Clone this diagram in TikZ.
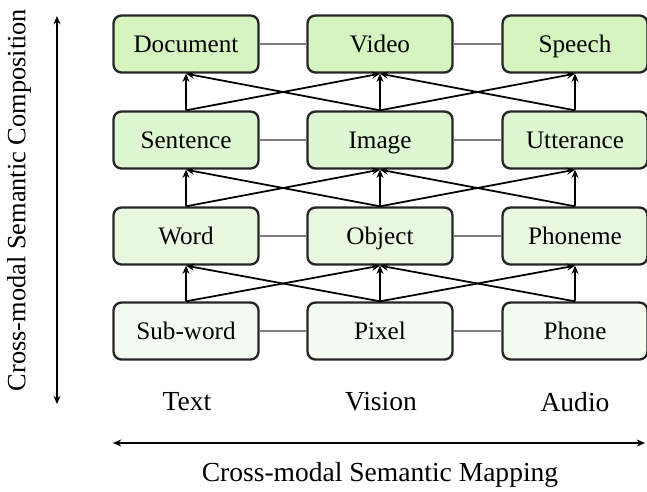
\documentclass[tikz,border=0pt]{standalone}
\usepackage{fontspec}
\usetikzlibrary{arrows.meta}
\setmainfont{Liberation Serif}
\definecolor{lvA}{RGB}{244,251,240}
\definecolor{lvB}{RGB}{233,248,225}
\definecolor{lvC}{RGB}{222,246,209}
\definecolor{lvD}{RGB}{213,244,192}
\begin{document}
\begin{tikzpicture}[x=0.03cm, y=-0.03cm, >={Stealth[length=7pt, width=6pt]},
    box/.style={draw=black!85, line width=2pt, rounded corners=0.24cm,
        minimum width=4.35cm, minimum height=1.71cm, text height=14pt, text depth=0pt,
        font=\fontsize{21.5}{25}\selectfont},
    up/.style={->, line width=1.5pt},
    link/.style={gray, line width=2pt},
    lab/.style={font=\fontsize{23.5}{28}\selectfont}]
    \useasboundingbox (0,0) rectangle (647,491);

    % 1. 各层方框
    \node[box, fill=lvD] (doc) at (186,44) {Document};
    \node[box, fill=lvD] (vid) at (380,44) {Video};
    \node[box, fill=lvD] (spe) at (575,44) {Speech};
    \node[box, fill=lvC] (sen) at (186,140) {Sentence};
    \node[box, fill=lvC] (img) at (380,140) {Image};
    \node[box, fill=lvC] (utt) at (575,140) {Utterance};
    \node[box, fill=lvB] (wrd) at (186,236) {Word};
    \node[box, fill=lvB] (obj) at (380,236) {Object};
    \node[box, fill=lvB] (phm) at (575,236) {Phoneme};
    \node[box, fill=lvA] (sub) at (186,331) {Sub-word};
    \node[box, fill=lvA] (pix) at (380,331) {Pixel};
    \node[box, fill=lvA] (pho) at (575,331) {Phone};

    % 2. 横向连线
    \draw[link] (doc) -- (vid) (vid) -- (spe);
    \draw[link] (sen) -- (img) (img) -- (utt);
    \draw[link] (wrd) -- (obj) (obj) -- (phm);
    \draw[link] (sub) -- (pix) (pix) -- (pho);

    % 3. 向上组合箭头
    \draw[up] (sub.north) -- (wrd.south);
    \draw[up] (sub.north) -- (obj.south);
    \draw[up] (pix.north) -- (wrd.south);
    \draw[up] (pix.north) -- (obj.south);
    \draw[up] (pix.north) -- (phm.south);
    \draw[up] (pho.north) -- (obj.south);
    \draw[up] (pho.north) -- (phm.south);

    \draw[up] (wrd.north) -- (sen.south);
    \draw[up] (wrd.north) -- (img.south);
    \draw[up] (obj.north) -- (sen.south);
    \draw[up] (obj.north) -- (img.south);
    \draw[up] (obj.north) -- (utt.south);
    \draw[up] (phm.north) -- (img.south);
    \draw[up] (phm.north) -- (utt.south);

    \draw[up] (sen.north) -- (doc.south);
    \draw[up] (sen.north) -- (vid.south);
    \draw[up] (img.north) -- (doc.south);
    \draw[up] (img.north) -- (vid.south);
    \draw[up] (img.north) -- (spe.south);
    \draw[up] (utt.north) -- (vid.south);
    \draw[up] (utt.north) -- (spe.south);

    % 4. 模态标签与两个方向
    \node[lab, anchor=base] (ttext) at (187,410) {Text};
    \node[lab, anchor=base] (tvis) at (381,410) {Vision};
    \node[lab, anchor=base] (taud) at (575,411) {Audio};

    \coordinate (ctop) at (57,16);
    \coordinate (cbot) at (57,404);
    \draw[<->, line width=1.8pt] (ctop) -- (cbot);
    \node[lab, rotate=90, font=\fontsize{22.5}{27}\selectfont] (comp) at (19,200) {Cross-modal Semantic Composition};

    \coordinate (mleft) at (113,443);
    \coordinate (mright) at (645,443);
    \draw[<->, line width=1.8pt] (mleft) -- (mright);
    \node[lab, anchor=base] (map) at (380,481) {Cross-modal Semantic Mapping};
\end{tikzpicture}
\end{document}
